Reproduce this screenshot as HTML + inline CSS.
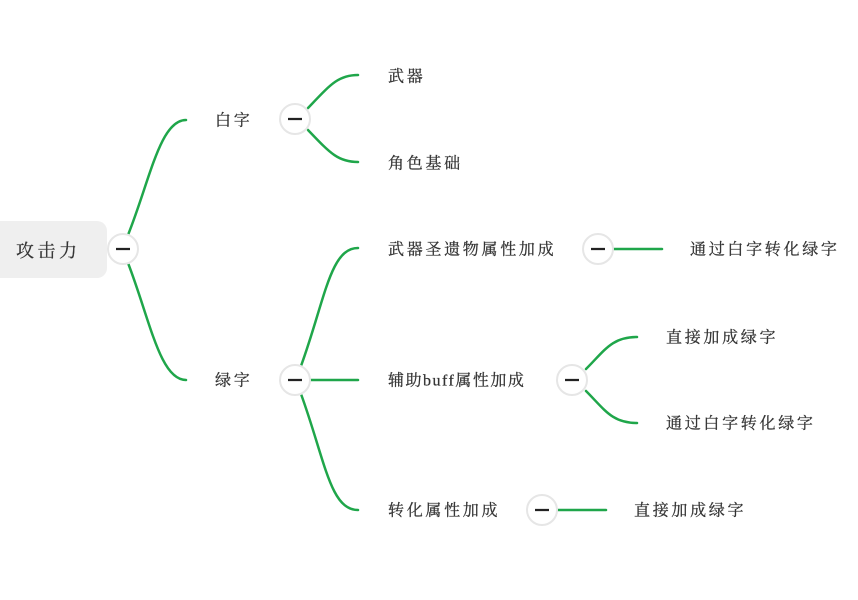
<!DOCTYPE html>
<html><head><meta charset="utf-8"><style>
html,body{margin:0;padding:0;background:#fff;width:858px;height:600px;overflow:hidden}
svg text{font-family:"Liberation Serif","Noto Serif CJK SC",serif;fill:#333;font-size:16px;letter-spacing:2.7px;dominant-baseline:central;stroke:#333;stroke-width:0.25}
</style></head><body>
<svg width="858" height="600" viewBox="0 0 858 600" xmlns="http://www.w3.org/2000/svg">
<rect x="-10" y="221" width="117" height="57" rx="10" fill="#efefef"/>
<text x="16" y="251" style="font-size:18px;letter-spacing:3.5px">攻击力</text>
<g fill="none" stroke="#1fa64a" stroke-width="2.5" stroke-linecap="round">
<path d="M128 235 C150 180,160 120,186 120"/>
<path d="M128 263 C150 320,160 380,186 380"/>
<path d="M308 108 C330 85,338 75,358 75"/>
<path d="M308 130 C330 153,338 162,358 162"/>
<path d="M301 366 C325 300,330 248,358 248"/>
<path d="M310 380 L358 380"/>
<path d="M301 394 C325 460,330 510,358 510"/>
<path d="M613 249 L662 249"/>
<path d="M586 369 C605 350,612 337,637 337"/>
<path d="M586 391 C605 410,612 423,637 423"/>
<path d="M557 510 L606 510"/>
</g>
<g fill="#fff" stroke="#e6e6e6" stroke-width="2">
<circle cx="123" cy="249" r="15"/>
<circle cx="295" cy="119" r="15"/>
<circle cx="295" cy="380" r="15"/>
<circle cx="598" cy="249" r="15"/>
<circle cx="572" cy="380" r="15"/>
<circle cx="542" cy="510" r="15"/>
</g>
<g stroke="#222" stroke-width="2.2">
<path d="M116 249h14M288 119h14M288 380h14M591 249h14M565 380h14M535 510h14"/>
</g>
<text x="215" y="121">白字</text>
<text x="215" y="381">绿字</text>
<text x="388" y="77">武器</text>
<text x="388" y="164">角色基础</text>
<text x="388" y="250">武器圣遗物属性加成</text>
<text x="388" y="381" style="letter-spacing:1.5px">辅助buff属性加成</text>
<text x="388" y="511">转化属性加成</text>
<text x="690" y="250">通过白字转化绿字</text>
<text x="666" y="338">直接加成绿字</text>
<text x="666" y="424">通过白字转化绿字</text>
<text x="634" y="511">直接加成绿字</text>
</svg>
</body></html>
